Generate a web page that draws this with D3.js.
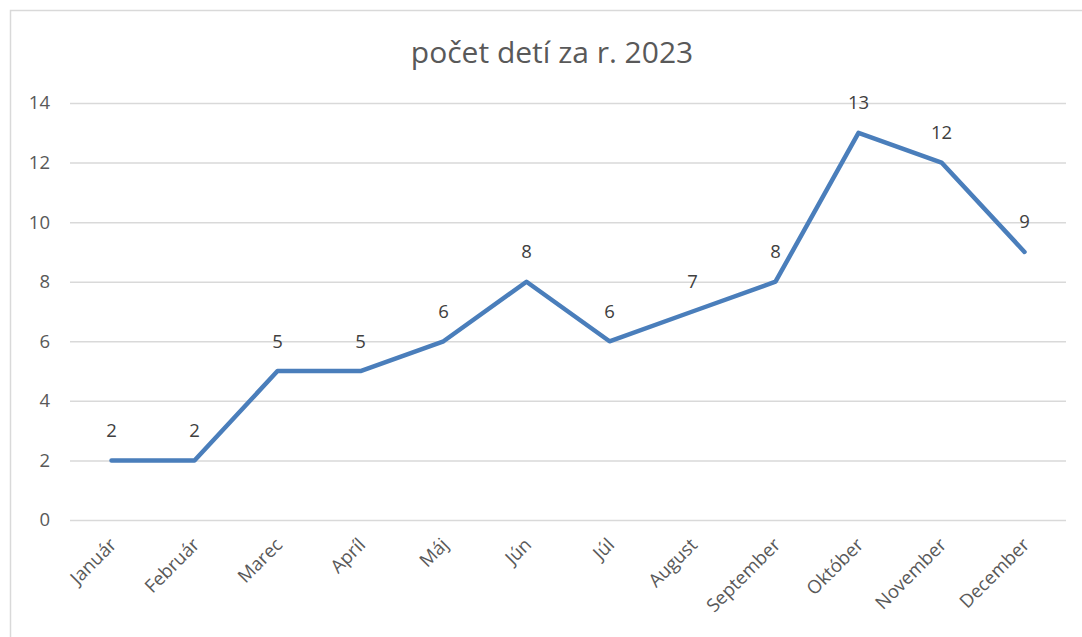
<!DOCTYPE html>
<html>
<head>
<meta charset="utf-8">
<script src="https://cdn.jsdelivr.net/npm/d3@7"></script>
<style>
  body { margin: 0; background: #fff; }
  text { font-family: "Open Sans", sans-serif; }
</style>
</head>
<body>
<div id="chart"></div>
<script>
var months = ["Január", "Február", "Marec", "Apríl", "Máj", "Jún",
              "Júl", "August", "September", "Október", "November", "December"];
var counts = [2, 2, 5, 5, 6, 8, 6, 7, 8, 13, 12, 9];
var y_ticks = [0, 2, 4, 6, 8, 10, 12, 14];
var title = "počet detí za r. 2023";

var width = 1082, height = 637;
var plot_left = 70, plot_right = 1066, plot_top = 103, plot_bottom = 520;

var svg = d3.select("#chart").append("svg")
    .attr("width", width)
    .attr("height", height);

// chart frame
svg.append("rect")
    .attr("x", 10.5).attr("y", 10.5)
    .attr("width", width + 20).attr("height", height + 20)
    .attr("fill", "none")
    .attr("stroke", "#d9d9d9")
    .attr("stroke-width", 1.5);

svg.append("text")
    .attr("x", 552).attr("y", 63)
    .attr("text-anchor", "middle")
    .style("font-size", "30px")
    .style("fill", "#595959")
    .text(title);

var x = d3.scalePoint().domain(months).range([plot_left, plot_right]).padding(0.5);
var y = d3.scaleLinear().domain([0, 14]).range([plot_bottom, plot_top]);

// gridlines
svg.append("g")
    .attr("transform", "translate(" + plot_left + ",0)")
    .call(d3.axisLeft(y).tickValues(y_ticks).tickSize(-(plot_right - plot_left)).tickFormat(""))
    .call(g => g.select(".domain").remove())
    .call(g => g.selectAll("line").attr("stroke", "#d9d9d9").attr("stroke-width", 1.5));

// y labels
svg.append("g").selectAll("text")
    .data(y_ticks)
    .enter().append("text")
    .attr("x", 50)
    .attr("y", d => y(d))
    .attr("dy", "0.35em")
    .attr("text-anchor", "end")
    .style("font-size", "18.5px")
    .style("fill", "#595959")
    .text(d => d);

// x labels
svg.append("g").selectAll("text")
    .data(months)
    .enter().append("text")
    .attr("text-anchor", "end")
    .attr("transform", d => "translate(" + (x(d) + 6) + "," + 546 + ") rotate(-45)")
    .style("font-size", "18.5px")
    .style("fill", "#595959")
    .text(d => d);

var line = d3.line()
    .x((d, i) => x(months[i]))
    .y(d => y(d));

svg.append("path")
    .datum(counts)
    .attr("d", line)
    .attr("fill", "none")
    .attr("stroke", "#4a7ebb")
    .attr("stroke-width", 4.5)
    .attr("stroke-linejoin", "round")
    .attr("stroke-linecap", "round");

// data labels
svg.append("g").selectAll("text")
    .data(counts)
    .enter().append("text")
    .attr("x", (d, i) => x(months[i]))
    .attr("y", d => y(d) - 30)
    .attr("dy", "0.35em")
    .attr("text-anchor", "middle")
    .style("font-size", "18.5px")
    .style("fill", "#404040")
    .text(d => d);
</script>
</body>
</html>
